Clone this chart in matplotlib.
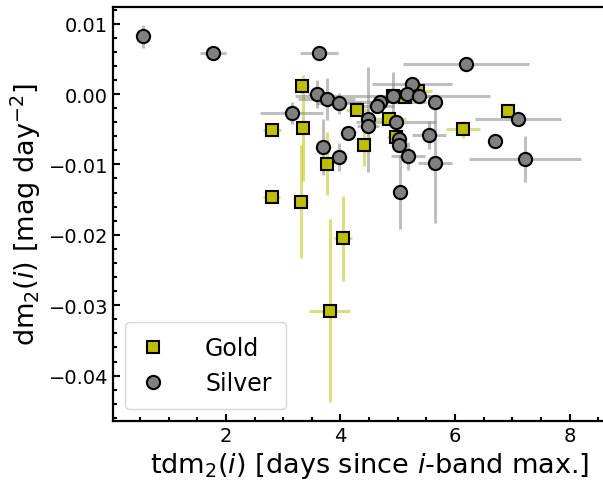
import matplotlib
matplotlib.use("Agg")
import matplotlib.pyplot as plt
from matplotlib.ticker import MultipleLocator

# Gold sample: tdm2(i) [days], its error, dm2(i) [mag/day^2], its error
gold_t = [3.33, 3.35, 2.80, 2.80, 3.76, 4.04, 3.81, 4.29, 4.41, 4.85,
          4.97, 4.92, 5.35, 6.14, 6.92, 5.12, 3.31]
gold_terr = [0.12, 0.10, 0.16, 0.15, 0.12, 0.16, 0.36, 0.20, 0.10, 0.30,
             0.15, 0.20, 0.25, 0.29, 0.05, 0.15, 0.12]
gold_dm = [0.0011, -0.0048, -0.0051, -0.0147, -0.0099, -0.0205, -0.0308,
           -0.0023, -0.0072, -0.0036, -0.0061, -0.0003, 0.0004, -0.0050,
           -0.0024, -0.0004, -0.0153]
gold_dmerr = [0.0010, 0.0075, 0.0008, 0.0008, 0.0045, 0.0060, 0.0130,
              0.0006, 0.0030, 0.0008, 0.0010, 0.0010, 0.0007, 0.0012,
              0.0005, 0.0008, 0.0080]

# Silver sample
silver_t = [0.55, 1.77, 3.62, 3.59, 3.76, 3.97, 3.15, 4.13, 3.69, 3.97,
            6.19, 5.25, 4.91, 5.16, 5.37, 5.65, 4.69, 4.64, 4.48, 4.48,
            4.97, 5.02, 5.02, 5.54, 5.18, 5.65, 5.04, 7.10, 6.69, 7.22]
silver_terr = [0.08, 0.23, 0.33, 0.15, 0.50, 0.40, 0.55, 0.05, 0.10, 0.10,
               1.10, 0.70, 1.70, 0.30, 0.30, 0.10, 0.80, 0.30, 0.10, 0.20,
               0.70, 0.10, 0.10, 0.30, 0.30, 0.30, 0.05, 0.75, 0.05, 0.97]
silver_dm = [0.0082, 0.0058, 0.0058, 0.0000, -0.0007, -0.0013, -0.0027,
             -0.0055, -0.0075, -0.0089, 0.0043, 0.0014, -0.0003, 0.0000,
             -0.0003, -0.0011, -0.0011, -0.0017, -0.0036, -0.0045, -0.0040,
             -0.0064, -0.0072, -0.0058, -0.0088, -0.0098, -0.0139, -0.0036,
             -0.0067, -0.0092]
silver_dmerr = [0.0016, 0.0006, 0.0005, 0.0020, 0.0030, 0.0015, 0.0015,
                0.0005, 0.0040, 0.0020, 0.0003, 0.0003, 0.0034, 0.0010,
                0.0008, 0.0005, 0.0010, 0.0008, 0.0075, 0.0010, 0.0010,
                0.0010, 0.0008, 0.0020, 0.0020, 0.0085, 0.0053, 0.0003,
                0.0003, 0.0033]

fig = plt.figure(figsize=(6.03, 4.81), dpi=100)
# axes run past the right edge of the canvas
ax = fig.add_axes([113 / 603, 59 / 481, 514 / 603, 414 / 481])

# error bars first, markers on top
ax.errorbar(gold_t, gold_dm, xerr=gold_terr, yerr=gold_dmerr, fmt='none',
            ecolor='y', alpha=0.5, elinewidth=2.2, capsize=0, zorder=1)
ax.errorbar(silver_t, silver_dm, xerr=silver_terr, yerr=silver_dmerr, fmt='none',
            ecolor='gray', alpha=0.5, elinewidth=2.2, capsize=0, zorder=1)
ax.plot(gold_t, gold_dm, 's', color='y', mec='k', mew=1.5, ms=9,
        label='Gold', zorder=3)
ax.plot(silver_t, silver_dm, 'o', color='gray', mec='k', mew=1.5, ms=9.5,
        label='Silver', zorder=4)

ax.set_xlim(0.03, 9.0)
ax.set_ylim(-0.04645, 0.01236)
ax.xaxis.set_major_locator(MultipleLocator(2))
ax.xaxis.set_minor_locator(MultipleLocator(0.5))
ax.yaxis.set_major_locator(MultipleLocator(0.01))
ax.yaxis.set_minor_locator(MultipleLocator(0.002))
ax.tick_params(which='both', direction='in', width=1.5, labelsize=14)
ax.tick_params(which='major', length=5)
ax.tick_params(which='minor', length=3)
for side in ['left', 'bottom', 'top', 'right']:
    ax.spines[side].set_linewidth(1.6)

ax.set_xlabel(r'tdm$_2$($i$) [days since $i$-band max.]', fontsize=19.5)
ax.set_ylabel(r'dm$_2$($i$) [mag day$^{-2}$]', fontsize=19.5)
ax.legend(loc='lower left', fontsize=17, numpoints=1, borderpad=0.6,
          handlelength=1.2, handletextpad=1.6, labelspacing=0.45)

fig.savefig('out.png', dpi=100)
